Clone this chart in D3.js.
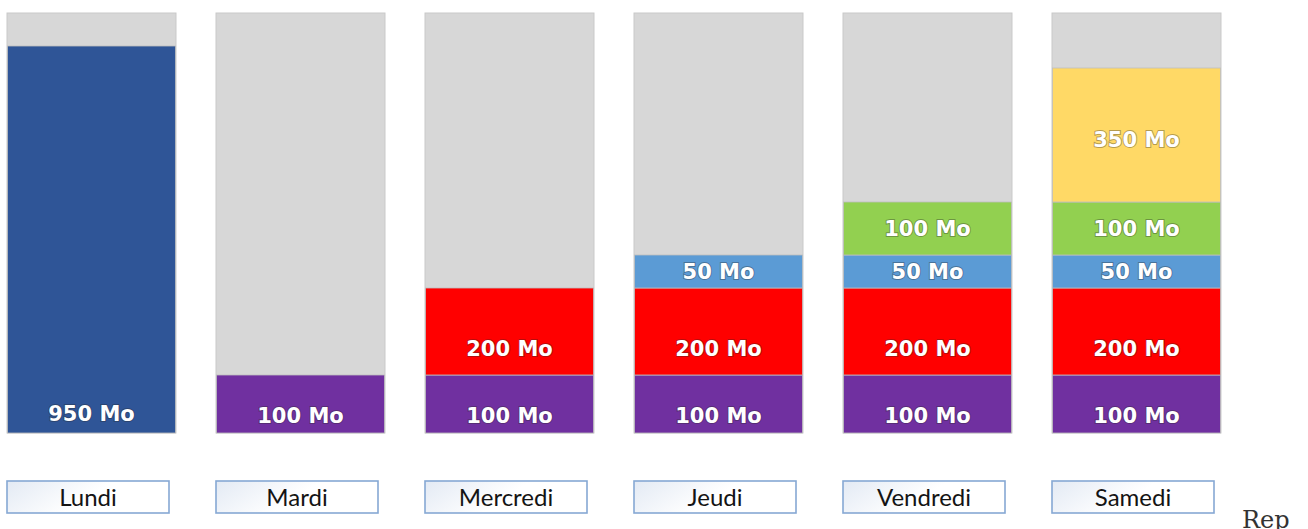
<!DOCTYPE html>
<html><head><meta charset="utf-8">
<script src="https://cdn.jsdelivr.net/npm/d3@7"></script>
<style>
html,body{margin:0;padding:0;background:#fff;overflow:hidden;}
svg{display:block;}
.seg-label{font-family:"DejaVu Sans",sans-serif;font-weight:bold;font-size:21px;fill:#fff;
  paint-order:stroke;stroke:rgba(40,40,40,0.35);stroke-width:2px;}
.day-label{font-family:Lato,"Open Sans",sans-serif;font-size:24px;fill:#141414;}
.rep{font-family:"DejaVu Serif",serif;font-size:24px;fill:#333;}
</style>
</head><body>
<script>
// ---- data ----
const days = ["Lundi","Mardi","Mercredi","Jeudi","Vendredi","Samedi"];
const capacity = 1000;           // gray background (Mo)
const seriesKeys = ["s1","s2","s3","s4","s5","s6"];
const s1 = [950,   0,   0,   0,   0,   0];
const s2 = [  0, 100, 100, 100, 100, 100];
const s3 = [  0,   0, 200, 200, 200, 200];
const s4 = [  0,   0,   0,  50,  50,  50];
const s5 = [  0,   0,   0,   0, 100, 100];
const s6 = [  0,   0,   0,   0,   0, 350];
const unit = " Mo";

// ---- styles ----
const colors = {s1:"#2F5597", s2:"#7030A0", s3:"#FF0000", s4:"#5B9BD5", s5:"#92D050", s6:"#FFD966"};
const labelFrac = {s1:0.05, s2:0.3, s3:0.3, s4:0.5, s5:0.5, s6:0.46};

const rows = days.map((d,i)=>({day:d, s1:s1[i], s2:s2[i], s3:s3[i], s4:s4[i], s5:s5[i], s6:s6[i]}));

const W = 1308, H = 529;
const svg = d3.select("body").append("svg").attr("width",W).attr("height",H);

const x = d3.scaleBand().domain(days).range([7, 1221]).paddingInner(40/209).paddingOuter(0);
// the original picture is not drawn to proportion: piecewise scale reproduces it
const y = d3.scaleLinear()
  .domain([0, 100, 300, 350, 450, 800, 950, capacity])
  .range([433, 375, 288, 255, 202, 68, 46, 13]);

const bw = x.bandwidth();

// gray background
svg.append("g").selectAll("rect").data(days).join("rect")
  .attr("x", d=>x(d)).attr("y", y(capacity))
  .attr("width", bw).attr("height", y(0)-y(capacity))
  .attr("fill","#D7D7D7").attr("stroke","#C9C9C9").attr("stroke-width",1);

const stack = d3.stack().keys(seriesKeys)(rows);

const g = svg.append("g");
stack.forEach(layer=>{
  const key = layer.key;
  layer.forEach(seg=>{
    const v = seg[1]-seg[0];
    if (v<=0) return;
    const day = seg.data.day;
    const top = y(seg[1]), bot = y(seg[0]);
    g.append("rect").attr("x", x(day)+0.5).attr("y", top)
      .attr("width", bw-1).attr("height", bot-top)
      .attr("fill", colors[key]).attr("stroke","#BFBFBF").attr("stroke-width",0.8);
    g.append("text").attr("class","seg-label")
      .attr("x", x(day)+bw/2).attr("y", bot - labelFrac[key]*(bot-top))
      .attr("text-anchor","middle").attr("dominant-baseline","central")
      .text(v+unit);
  });
});

// buttons
const defs = svg.append("defs");
const grad = defs.append("linearGradient").attr("id","btn").attr("x1","0").attr("x2","1").attr("y1","0").attr("y2","0.3");
grad.append("stop").attr("offset","0").attr("stop-color","#E3EAF4");
grad.append("stop").attr("offset","0.6").attr("stop-color","#FFFFFF");
grad.append("stop").attr("offset","1").attr("stop-color","#FFFFFF");

const bg = svg.append("g").selectAll("g").data(days).join("g")
  .attr("transform", d=>`translate(${x(d)},481)`);
bg.append("rect").attr("width",162).attr("height",32)
  .attr("fill","url(#btn)").attr("stroke","#86A8D4").attr("stroke-width",1.6);
bg.append("text").attr("class","day-label").attr("x",81).attr("y",24.5)
  .attr("text-anchor","middle").text(d=>d);

svg.append("text").attr("class","rep").attr("x",1242).attr("y",528).text("Rep");
</script>
</body></html>
